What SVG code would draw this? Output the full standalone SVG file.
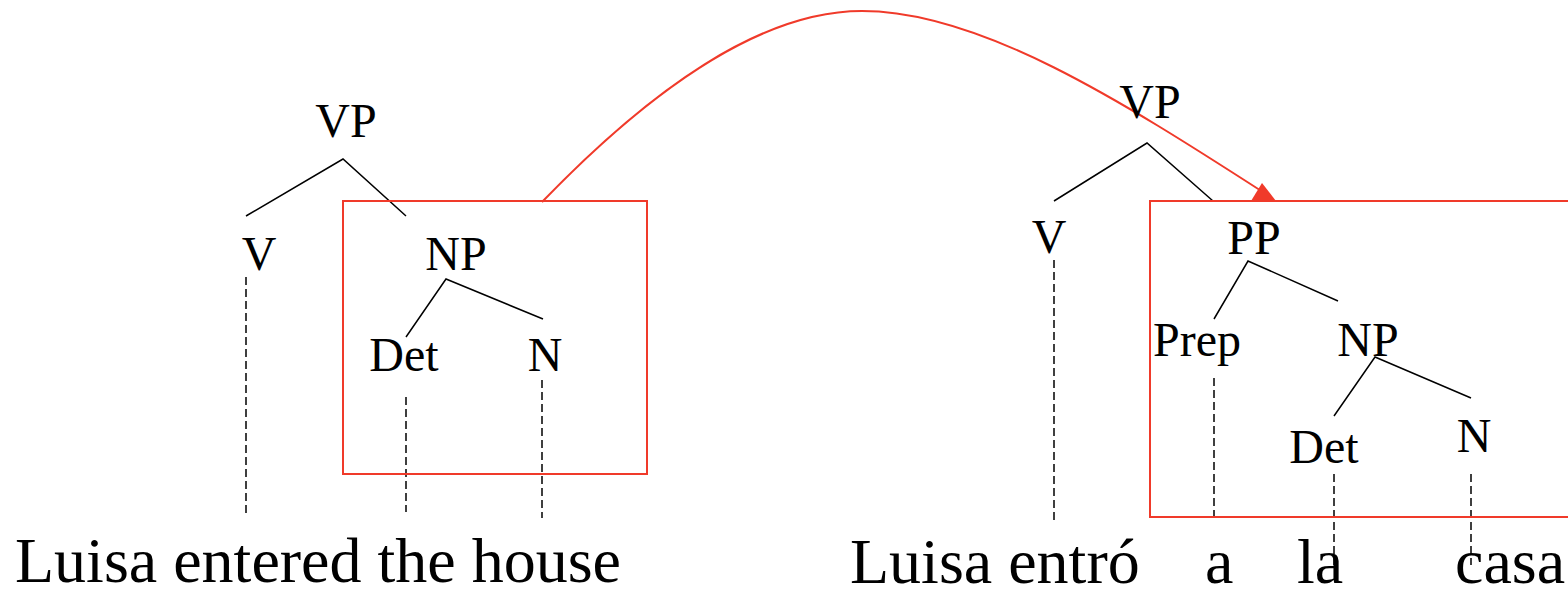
<svg xmlns="http://www.w3.org/2000/svg" width="1568" height="595" viewBox="0 0 1568 595">
<style>
.lbl{font-family:'Liberation Serif',Times,serif;font-size:48px;fill:#000;text-anchor:middle}
.word{font-family:'Liberation Serif',Times,serif;font-size:64px;fill:#000}
.edge{stroke:#000;stroke-width:1.5;fill:none}
.dash{stroke:#000;stroke-width:1.5;stroke-dasharray:8,4;fill:none}
.box{stroke:#f03a2a;stroke-width:2;fill:none}
.arc{stroke:#f03a2a;stroke-width:2;fill:none}
</style>
<rect width="1568" height="595" fill="#fff"/>
<g id="connectors">
<polyline class="edge" points="246,216 343,159 406,216"/>
<polyline class="edge" points="406,337 446,279 543,319"/>
<line class="dash" x1="246" y1="277" x2="246" y2="515"/>
<line class="dash" x1="406" y1="397" x2="406" y2="512"/>
<line class="dash" x1="542" y1="380" x2="542" y2="518"/>
<polyline class="edge" points="1054,201 1147,143 1213,201"/>
<polyline class="edge" points="1214,319 1248,261 1338,301"/>
<polyline class="edge" points="1334,416 1375,357 1471,398"/>
<line class="dash" x1="1054" y1="260" x2="1054" y2="523"/>
<line class="dash" x1="1214" y1="378" x2="1214" y2="522"/>
<line class="dash" x1="1334" y1="474" x2="1334" y2="565"/>
<line class="dash" x1="1471" y1="474" x2="1471" y2="565"/>
<path class="arc" d="M542,202 C650,90 760,11 862,11 C980,11 1120,100 1266,194"/>
<polygon points="1251,201 1262,183 1276,201" fill="#f03a2a"/>
</g>
<g id="box-left"><rect class="box" x="343" y="201" width="304" height="273"/></g>
<g id="box-right"><rect class="box" x="1150" y="201" width="430" height="316"/></g>
<g id="left-VP"><text class="lbl" x="346" y="137" font-family="Liberation Serif">VP</text></g>
<g id="left-V"><text class="lbl" x="259" y="270" font-family="Liberation Serif">V</text></g>
<g id="left-NP"><text class="lbl" x="456" y="270" font-family="Liberation Serif">NP</text></g>
<g id="left-Det"><text class="lbl" x="404" y="371" font-family="Liberation Serif">Det</text></g>
<g id="left-N"><text class="lbl" x="545" y="371" font-family="Liberation Serif">N</text></g>
<g id="right-VP"><text class="lbl" x="1150" y="118" font-family="Liberation Serif">VP</text></g>
<g id="right-V"><text class="lbl" x="1049" y="253" font-family="Liberation Serif">V</text></g>
<g id="right-PP"><text class="lbl" x="1254" y="254" font-family="Liberation Serif">PP</text></g>
<g id="right-Prep"><text class="lbl" x="1197" y="356" font-family="Liberation Serif">Prep</text></g>
<g id="right-NP"><text class="lbl" x="1368" y="356" font-family="Liberation Serif">NP</text></g>
<g id="right-Det"><text class="lbl" x="1324" y="463" font-family="Liberation Serif">Det</text></g>
<g id="right-N"><text class="lbl" x="1474" y="452" font-family="Liberation Serif">N</text></g>
<g id="sentence-en"><text class="word" x="15" y="582" font-family="Liberation Serif">Luisa entered the house</text></g>
<g id="sentence-es">
<text class="word" x="850" y="583" font-family="Liberation Serif">Luisa entró</text>
<text class="word" x="1205" y="583" font-family="Liberation Serif">a</text>
<text class="word" x="1297" y="583" font-family="Liberation Serif">la</text>
<text class="word" x="1455" y="583" font-family="Liberation Serif">casa</text>
</g>
</svg>
